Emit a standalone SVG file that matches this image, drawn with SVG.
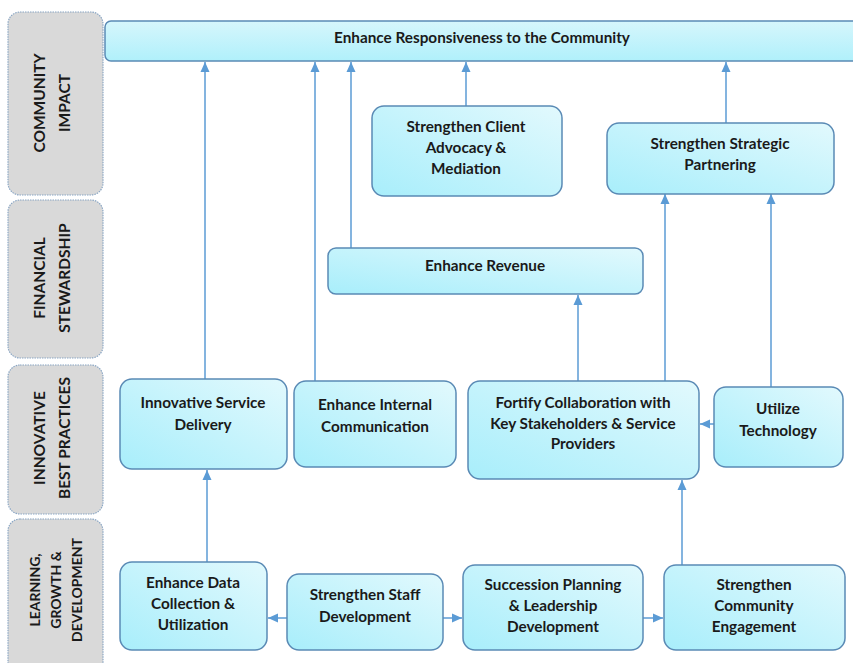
<svg xmlns="http://www.w3.org/2000/svg" width="853" height="663" viewBox="0 0 853 663">
<defs>
<linearGradient id="bg" x1="0" y1="1" x2="1" y2="0">
<stop offset="0" stop-color="#a8eefb"/>
<stop offset="1" stop-color="#e2f9fd"/>
</linearGradient>
<linearGradient id="barg" x1="0" y1="1" x2="0" y2="0">
<stop offset="0" stop-color="#b0f0fb"/>
<stop offset="1" stop-color="#d6f6fc"/>
</linearGradient>
<marker id="ah" markerUnits="userSpaceOnUse" markerWidth="10" markerHeight="10" viewBox="0 0 10 10" refX="10" refY="5" orient="auto">
<path d="M0,0.5 L10,5 L0,9.5 z" fill="#5b9bd5"/>
</marker>
<style>
.lane{fill:#d9d9d9;stroke:#8aa6c4;stroke-width:1.2;stroke-dasharray:1.5 1}
.lt{font-family:Lato,"Liberation Sans",sans-serif;font-weight:700;font-size:15.5px;fill:#1a1a1a;text-anchor:middle}
.box{fill:url(#bg);stroke:#5a8ab5;stroke-width:1.5}
.t{font-family:Lato,"Liberation Sans",sans-serif;font-weight:700;font-size:15.3px;fill:#1a1a1a;text-anchor:middle;dominant-baseline:central}
.c{fill:none;stroke:#5b9bd5;stroke-width:1.5;marker-end:url(#ah)}
</style>
</defs>

<g id="lane-community">
<rect class="lane" x="8" y="12" width="95" height="183" rx="12"/>
<text class="lt" transform="translate(55,103) rotate(-90)"><tspan x="0" y="-10">COMMUNITY</tspan><tspan x="0" y="15">IMPACT</tspan></text>
</g>
<g id="lane-financial">
<rect class="lane" x="8" y="200" width="95" height="158" rx="12"/>
<text class="lt" transform="translate(55,278) rotate(-90)"><tspan x="0" y="-10">FINANCIAL</tspan><tspan x="0" y="15">STEWARDSHIP</tspan></text>
</g>
<g id="lane-innovative">
<rect class="lane" x="8" y="365" width="95" height="149" rx="12"/>
<text class="lt" transform="translate(55,438) rotate(-90)"><tspan x="0" y="-10">INNOVATIVE</tspan><tspan x="0" y="15">BEST PRACTICES</tspan></text>
</g>
<g id="lane-learning">
<rect class="lane" x="8" y="519" width="95" height="160" rx="12"/>
<text class="lt" transform="translate(55,590) rotate(-90)" style="font-size:14px"><tspan x="0" y="-15">LEARNING,</tspan><tspan x="0" y="6">GROWTH &amp;</tspan><tspan x="0" y="27">DEVELOPMENT</tspan></text>
</g>

<g id="connectors">
<line class="c" x1="205" y1="379" x2="205" y2="62"/>
<line class="c" x1="315" y1="381" x2="315" y2="62"/>
<line class="c" x1="351" y1="248" x2="351" y2="62"/>
<line class="c" x1="466" y1="106" x2="466" y2="62"/>
<line class="c" x1="726" y1="123" x2="726" y2="62"/>
<line class="c" x1="578" y1="381" x2="578" y2="295"/>
<line class="c" x1="665" y1="381" x2="665" y2="194"/>
<line class="c" x1="771" y1="387" x2="771" y2="194"/>
<line class="c" x1="714" y1="424" x2="700" y2="424"/>
<line class="c" x1="682" y1="565" x2="682" y2="480"/>
<line class="c" x1="207" y1="562" x2="207" y2="470"/>
<line class="c" x1="287" y1="618" x2="268" y2="618"/>
<line class="c" x1="443" y1="618" x2="462" y2="618"/>
<line class="c" x1="643" y1="618" x2="663" y2="618"/>
</g>

<g id="n-top">
<rect x="105" y="21" width="770" height="40" rx="6" fill="url(#barg)" stroke="#5a8ab5" stroke-width="1.5"/>
<text class="t" x="482" y="37">Enhance Responsiveness to the Community</text>
</g>
<g id="n-client">
<rect class="box" x="372" y="106" width="190" height="90" rx="12"/>
<text class="t" x="466" y="126">Strengthen Client</text>
<text class="t" x="466" y="147">Advocacy &amp;</text>
<text class="t" x="466" y="168">Mediation</text>
</g>
<g id="n-partner">
<rect class="box" x="607" y="123" width="227" height="71" rx="12"/>
<text class="t" x="720" y="143">Strengthen Strategic</text>
<text class="t" x="720" y="164">Partnering</text>
</g>
<g id="n-revenue">
<rect class="box" x="328" y="248" width="315" height="46" rx="8"/>
<text class="t" x="485" y="265">Enhance Revenue</text>
</g>
<g id="n-isd">
<rect class="box" x="120" y="379" width="167" height="90" rx="12"/>
<text class="t" x="203" y="402">Innovative Service</text>
<text class="t" x="203" y="424">Delivery</text>
</g>
<g id="n-eic">
<rect class="box" x="294" y="381" width="162" height="86" rx="12"/>
<text class="t" x="375" y="404">Enhance Internal</text>
<text class="t" x="375" y="426">Communication</text>
</g>
<g id="n-fortify">
<rect class="box" x="468" y="381" width="231" height="98" rx="12"/>
<text class="t" x="583" y="402">Fortify Collaboration with</text>
<text class="t" x="583" y="423">Key Stakeholders &amp; Service</text>
<text class="t" x="583" y="443">Providers</text>
</g>
<g id="n-tech">
<rect class="box" x="714" y="387" width="129" height="80" rx="12"/>
<text class="t" x="778" y="408">Utilize</text>
<text class="t" x="778" y="430">Technology</text>
</g>
<g id="n-data">
<rect class="box" x="120" y="562" width="147" height="88" rx="12"/>
<text class="t" x="193" y="582">Enhance Data</text>
<text class="t" x="193" y="603">Collection &amp;</text>
<text class="t" x="193" y="624">Utilization</text>
</g>
<g id="n-staff">
<rect class="box" x="287" y="574" width="156" height="76" rx="12"/>
<text class="t" x="365" y="594">Strengthen Staff</text>
<text class="t" x="365" y="616">Development</text>
</g>
<g id="n-succession">
<rect class="box" x="463" y="565" width="180" height="85" rx="12"/>
<text class="t" x="553" y="584">Succession Planning</text>
<text class="t" x="553" y="605">&amp; Leadership</text>
<text class="t" x="553" y="626">Development</text>
</g>
<g id="n-engage">
<rect class="box" x="664" y="565" width="181" height="85" rx="12"/>
<text class="t" x="754" y="584">Strengthen</text>
<text class="t" x="754" y="605">Community</text>
<text class="t" x="754" y="626">Engagement</text>
</g>
</svg>
